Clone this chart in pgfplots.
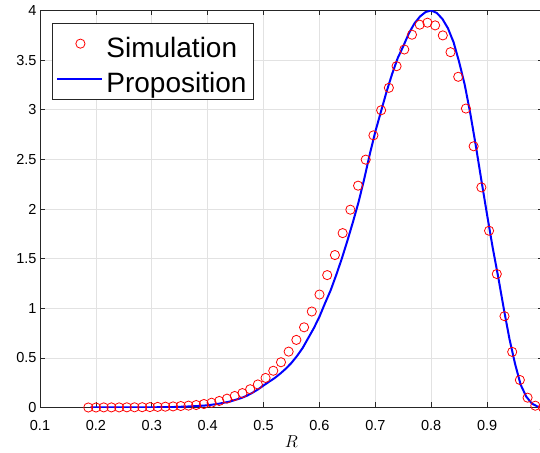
\documentclass[border=0pt]{standalone}
\usepackage{fontspec}
\setmainfont{Liberation Sans}
\usepackage{pgfplots}
\usepackage{pgfplotstable}
\pgfplotsset{compat=1.18}
\definecolor{gridgray}{RGB}{226,226,226}
\definecolor{axgray}{RGB}{38,38,38}
\pgfplotsset{
  markleg/.style={legend image code/.code={\draw[##1] plot coordinates {(23pt,0pt)};}},
  lineleg/.style={legend image code/.code={\draw[##1] (0pt,0pt) -- (45pt,0pt);}},
}

\pgfplotstableread{
x y
0.1864 0.000
0.2002 0.000
0.2140 0.001
0.2278 0.001
0.2416 0.001
0.2554 0.002
0.2691 0.002
0.2829 0.003
0.2967 0.004
0.3105 0.006
0.3243 0.008
0.3381 0.011
0.3519 0.015
0.3657 0.019
0.3795 0.025
0.3933 0.035
0.4070 0.048
0.4208 0.066
0.4346 0.089
0.4484 0.116
0.4622 0.145
0.4760 0.184
0.4898 0.232
0.5036 0.298
0.5174 0.370
0.5312 0.456
0.5449 0.563
0.5587 0.681
0.5725 0.808
0.5863 0.967
0.6001 1.138
0.6139 1.334
0.6277 1.536
0.6415 1.757
0.6553 1.993
0.6691 2.235
0.6828 2.497
0.6966 2.742
0.7104 2.995
0.7242 3.221
0.7380 3.439
0.7518 3.607
0.7656 3.756
0.7794 3.857
0.7932 3.877
0.8070 3.850
0.8207 3.749
0.8345 3.580
0.8483 3.332
0.8621 3.012
0.8759 2.632
0.8897 2.218
0.9035 1.781
0.9173 1.345
0.9311 0.920
0.9449 0.560
0.9586 0.277
0.9724 0.099
0.9862 0.018
1.0000 0.000
}\simdata

\pgfplotstableread{
x y
0.19 0.000
0.22 0.000
0.25 0.000
0.28 0.001
0.30 0.002
0.32 0.003
0.34 0.005
0.36 0.009
0.38 0.014
0.40 0.022
0.42 0.038
0.44 0.060
0.46 0.095
0.47 0.118
0.48 0.148
0.49 0.182
0.50 0.222
0.51 0.260
0.52 0.297
0.53 0.342
0.54 0.392
0.55 0.450
0.56 0.520
0.57 0.600
0.58 0.700
0.59 0.800
0.60 0.915
0.61 1.051
0.62 1.180
0.63 1.335
0.64 1.500
0.65 1.680
0.66 1.870
0.67 2.070
0.68 2.300
0.69 2.550
0.70 2.780
0.71 2.980
0.72 3.180
0.73 3.360
0.74 3.520
0.75 3.640
0.76 3.770
0.77 3.870
0.78 3.940
0.79 3.985
0.80 4.000
0.81 3.975
0.82 3.915
0.83 3.820
0.84 3.680
0.85 3.480
0.86 3.250
0.87 2.960
0.88 2.630
0.89 2.280
0.90 1.940
0.91 1.610
0.92 1.310
0.93 0.990
0.94 0.690
0.95 0.440
0.96 0.230
0.97 0.110
0.98 0.040
0.99 0.010
1.00 0.000
}\propdata

\begin{document}
\begin{tikzpicture}
\begin{axis}[
  scale only axis,
  width=503pt, height=397pt,
  xmin=0.1, xmax=1, ymin=0, ymax=4,
  xtick={0.1,0.2,0.3,0.4,0.5,0.6,0.7,0.8,0.9,1},
  ytick={0,0.5,1,1.5,2,2.5,3,3.5,4},
  xtick pos=both, ytick pos=both,
  xticklabel pos=lower, yticklabel pos=left,
  tick align=inside,
  major tick length=5pt,
  grid=major,
  major grid style={gridgray, line width=0.7pt},
  axis line style={axgray, line width=0.7pt},
  tick style={axgray, line width=0.7pt},
  /pgf/number format/assume math mode=true,
  ticklabel style={font=\fontsize{14.5}{16}\selectfont, text=black},
  xticklabel style={yshift=-9pt},
  xlabel={$R$},
  xlabel style={font=\fontsize{16}{18}\selectfont, yshift=1pt},
  legend cell align=left,
  legend style={
    at={(axis description cs:0.024,0.969)}, anchor=north west,
    draw=axgray, line width=0.7pt, fill=white,
    font=\fontsize{28}{30}\selectfont,
    inner xsep=4pt, inner ysep=3pt,
    row sep=0pt,
    nodes={text height=29pt, text depth=2pt, inner xsep=3pt},
  },
]
\addplot[only marks, mark=o, mark size=4.6pt, color=red, line width=0.8pt, markleg]
  table[x=x,y=y] {\simdata};
\addlegendentry{Simulation}
\addplot[color=blue, line width=2pt, no marks, lineleg]
  table[x=x,y=y] {\propdata};
\addlegendentry{Proposition}
\coordinate (BL) at (rel axis cs:0,0);
\coordinate (TR) at (rel axis cs:1,1);
\end{axis}
\pgfresetboundingbox
\path ([shift={(-40pt,-45.5pt)}]BL) rectangle ([shift={(-3pt,10.5pt)}]TR);
\end{tikzpicture}
\end{document}
